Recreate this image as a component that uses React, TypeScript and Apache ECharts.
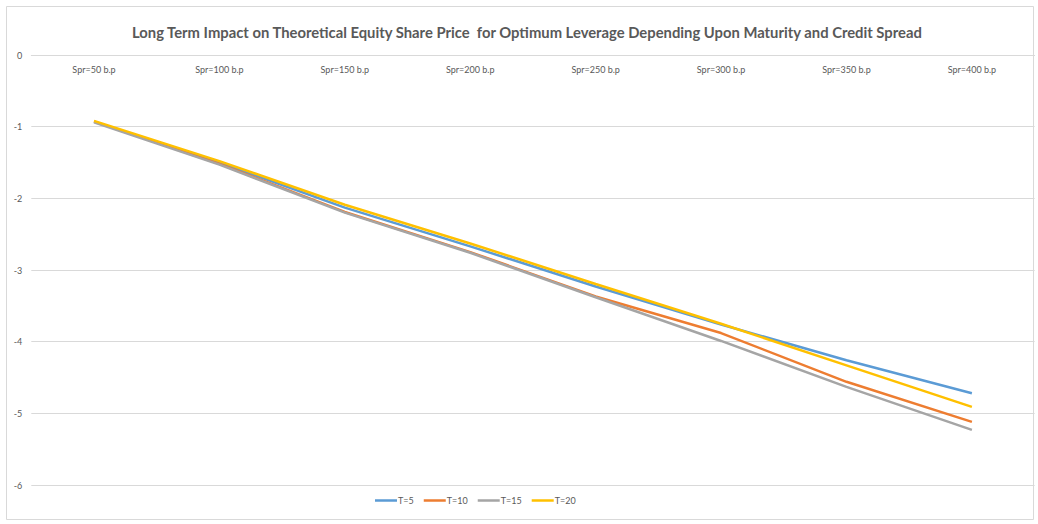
import React, { useEffect, useRef } from "react";
import * as echarts from "echarts";

const categories = ["Spr=50 b.p", "Spr=100 b.p", "Spr=150 b.p", "Spr=200 b.p", "Spr=250 b.p", "Spr=300 b.p", "Spr=350 b.p", "Spr=400 b.p"];
const t5 = [-0.93, -1.5, -2.13, -2.67, -3.23, -3.76, -4.26, -4.72];
const t10 = [-0.93, -1.52, -2.19, -2.75, -3.37, -3.88, -4.56, -5.12];
const t15 = [-0.94, -1.53, -2.2, -2.76, -3.38, -3.99, -4.63, -5.23];
const t20 = [-0.92, -1.48, -2.09, -2.63, -3.195, -3.75, -4.33, -4.91];
const seriesNames = ["T=5", "T=10", "T=15", "T=20"];
const colors = ["#5B9BD5", "#ED7D31", "#A5A5A5", "#FFC000"];
const yTicks = { min: -6, max: 0, interval: 1 };

export default function App() {
  const ref = useRef<HTMLDivElement>(null);
  useEffect(() => {
    if (!ref.current) return;
    const chart = echarts.init(ref.current, undefined, { renderer: "svg" });
    const data = [t5, t10, t15, t20];
    chart.setOption({
      animation: false,
      backgroundColor: "#ffffff",
      title: {
        text: "Long Term Impact on Theoretical Equity Share Price  for Optimum Leverage Depending Upon Maturity and Credit Spread",
        left: 127,
        top: 19,
        textStyle: { fontFamily: "Lato", fontSize: 14.8, fontWeight: "bold", color: "#595959" },
      },
      graphic: [
        {
          type: "rect",
          shape: { x: 6.5, y: 6.5, width: 1027, height: 513 },
          style: { fill: "none", stroke: "#d9d9d9", lineWidth: 1 },
          silent: true,
        },
      ],
      legend: {
        top: 491,
        left: 370,
        icon: "rect",
        itemWidth: 22,
        itemHeight: 2.5,
        itemGap: 10,
        textStyle: { fontFamily: "Lato", fontSize: 9, color: "#595959", padding: [0, 0, 0, -4] },
        data: seriesNames,
      },
      grid: { left: 31.3, right: 3.4, top: 55, bottom: 39, containLabel: false },
      xAxis: {
        type: "category",
        position: "top",
        data: categories,
        boundaryGap: true,
        axisLine: { show: true, lineStyle: { color: "#d9d9d9", width: 1 } },
        axisTick: { show: false },
        axisLabel: { inside: true, margin: 10, fontFamily: "Lato", fontSize: 9, color: "#595959", verticalAlign: "top", interval: 0 },
        splitLine: { show: false },
      },
      yAxis: {
        type: "value",
        min: yTicks.min,
        max: yTicks.max,
        interval: yTicks.interval,
        axisLine: { show: false },
        axisTick: { show: false },
        axisLabel: { margin: 9, fontFamily: "Lato", fontSize: 9, color: "#595959" },
        splitLine: { lineStyle: { color: "#d9d9d9", width: 1 } },
      },
      series: seriesNames.map((name, i) => ({
        name,
        type: "line",
        data: data[i],
        symbol: "none",
        lineStyle: { color: colors[i], width: 2.5 },
        itemStyle: { color: colors[i] },
        z: 2 + i,
      })),
    });
    return () => chart.dispose();
  }, []);
  return <div ref={ref} style={{ position: "fixed", left: 0, top: 0, width: 1038, height: 524 }} />;
}
